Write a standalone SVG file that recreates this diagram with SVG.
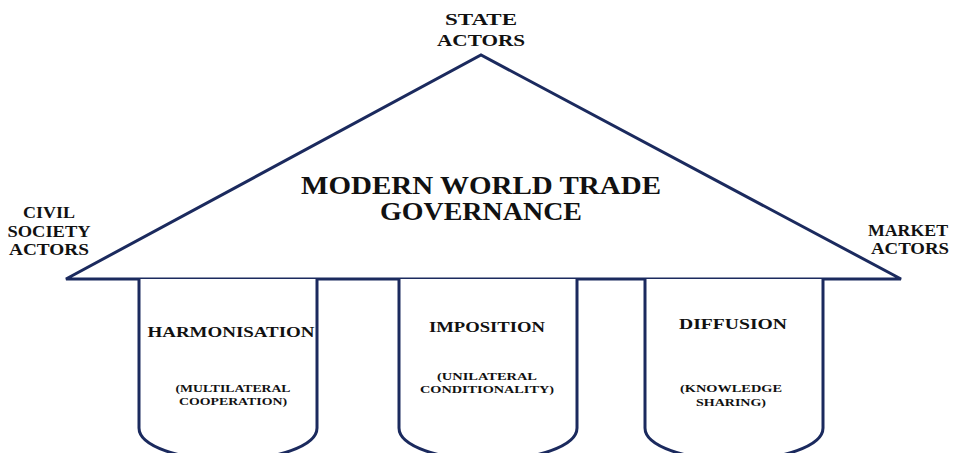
<svg xmlns="http://www.w3.org/2000/svg" width="953" height="453" viewBox="0 0 953 453">
  <style>
    .ln { fill: none; stroke: #1b2a5e; stroke-width: 3; stroke-linejoin: miter; }
    .fill { fill: #ffffff; }
    text { font-family: "Liberation Serif", "DejaVu Serif", serif; font-weight: bold; fill: #111111; text-anchor: middle; }
    .actor { font-size: 16px; }
    .title { font-size: 25px; }
    .pillar { font-size: 15px; }
    .sub { font-size: 11px; }
  </style>
  <rect width="953" height="453" fill="#ffffff"/>

  <!-- roof -->
  <g id="roof">
    <polygon class="ln fill" points="66,279 481,55 901,279"/>
    <text class="title" x="481" y="194" textLength="360" lengthAdjust="spacingAndGlyphs">MODERN WORLD TRADE</text>
    <text class="title" x="481" y="220" textLength="202" lengthAdjust="spacingAndGlyphs">GOVERNANCE</text>
  </g>

  <!-- pillars -->
  <g id="harmonisation">
    <path class="ln fill" d="M139,279 V428 A89,32 0 0 0 317,428 V279"/>
    <text class="pillar" x="231" y="337" textLength="167" lengthAdjust="spacingAndGlyphs">HARMONISATION</text>
    <text class="sub" x="233" y="392" textLength="115" lengthAdjust="spacingAndGlyphs">(MULTILATERAL</text>
    <text class="sub" x="233" y="405" textLength="108" lengthAdjust="spacingAndGlyphs">COOPERATION)</text>
  </g>
  <g id="imposition">
    <path class="ln fill" d="M399,279 V428 A89,32 0 0 0 577,428 V279"/>
    <text class="pillar" x="487" y="332" textLength="116" lengthAdjust="spacingAndGlyphs">IMPOSITION</text>
    <text class="sub" x="487" y="380" textLength="100" lengthAdjust="spacingAndGlyphs">(UNILATERAL</text>
    <text class="sub" x="487" y="393" textLength="134" lengthAdjust="spacingAndGlyphs">CONDITIONALITY)</text>
  </g>
  <g id="diffusion">
    <path class="ln fill" d="M645,279 V428 A89,32 0 0 0 823,428 V279"/>
    <text class="pillar" x="733" y="329" textLength="108" lengthAdjust="spacingAndGlyphs">DIFFUSION</text>
    <text class="sub" x="731" y="392" textLength="102" lengthAdjust="spacingAndGlyphs">(KNOWLEDGE</text>
    <text class="sub" x="731" y="406" textLength="70" lengthAdjust="spacingAndGlyphs">SHARING)</text>
  </g>

  <!-- actors at the roof corners -->
  <g id="state-actors">
    <text class="actor" x="481" y="25" textLength="72" lengthAdjust="spacingAndGlyphs">STATE</text>
    <text class="actor" x="481" y="46" textLength="88" lengthAdjust="spacingAndGlyphs">ACTORS</text>
  </g>
  <g id="civil-society-actors">
    <text class="actor" x="49" y="218" textLength="52" lengthAdjust="spacingAndGlyphs">CIVIL</text>
    <text class="actor" x="49" y="237" textLength="83" lengthAdjust="spacingAndGlyphs">SOCIETY</text>
    <text class="actor" x="49" y="255" textLength="80" lengthAdjust="spacingAndGlyphs">ACTORS</text>
  </g>
  <g id="market-actors">
    <text class="actor" x="908" y="236" textLength="80" lengthAdjust="spacingAndGlyphs">MARKET</text>
    <text class="actor" x="910" y="254" textLength="78" lengthAdjust="spacingAndGlyphs">ACTORS</text>
  </g>
</svg>
